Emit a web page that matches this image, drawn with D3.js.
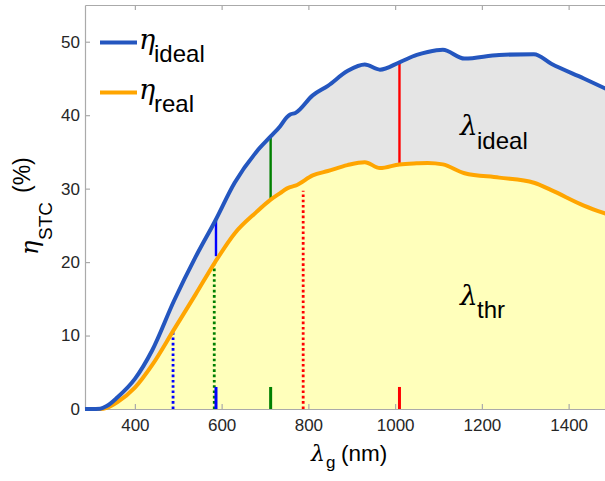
<!DOCTYPE html>
<html>
<head>
<meta charset="utf-8">
<script src="https://cdn.jsdelivr.net/npm/d3@7"></script>
<style>
  body { margin: 0; background: #fff; }
  svg { display: block; }
  .tick-label { font-family: "Liberation Sans", Arial, sans-serif; font-size: 17px; fill: #262626; }
  .sans { font-family: "Liberation Sans", Arial, sans-serif; fill: #000; }
  .greek { font-family: "DejaVu Serif", "Liberation Serif", serif; font-style: italic; fill: #000; }
</style>
</head>
<body>
<div id="chart"></div>
<script>
// wavelength grid (nm) and the two efficiency curves (%)
const lambdaNm = [285, 300, 320, 335, 360, 400, 440, 490, 540, 585, 630, 680, 713, 735, 750, 758, 770,
                  810, 845, 890, 930, 965, 1010, 1050, 1075, 1110, 1160, 1240, 1320, 1360, 1435, 1500];
const etaIdeal = [0, 0, 0.05, 0.4, 1.6, 4.1, 8.0, 14.7, 20.7, 25.6, 30.8, 35.0, 37.1, 38.5, 39.7, 40.1, 40.3,
                  42.7, 44.0, 46.0, 46.9, 46.2, 47.2, 48.2, 48.6, 48.9, 47.7, 48.2, 48.3, 47.0, 45.0, 43.2];
const etaReal  = [0, 0, 0, 0.15, 0.95, 2.9, 6.0, 10.8, 15.6, 20.0, 23.9, 26.8, 28.5, 29.4, 30.0, 30.2, 30.4,
                  31.8, 32.4, 33.2, 33.6, 32.8, 33.3, 33.45, 33.5, 33.3, 32.1, 31.5, 30.8, 29.8, 27.7, 26.3];

// markers
const markerColors = ["#0000ff", "#008000", "#ff0000"];
const solidLambda = [587, 713, 1010];
const solidLow    = [20.8, 28.5, 33.3];
const solidHigh   = [25.6, 37.1, 47.0];
const dotLambda   = [488, 583, 788];
const dotTop      = [10.8, 19.5, 29.7];
const baseLambda  = [587, 713, 1010];
const baseHeight  = [3, 3, 3];

const xTicks = [400, 600, 800, 1000, 1200, 1400];
const yTicks = [0, 10, 20, 30, 40, 50];

const W = 605, H = 481;
const margin = { left: 85, top: 5, bottom: 72, right: -7 };

const svg = d3.select("#chart").append("svg")
  .attr("width", W).attr("height", H);

const x = d3.scaleLinear().domain([285, 1500]).range([margin.left, W - margin.right]);
const y = d3.scaleLinear().domain([0, 55]).range([H - margin.bottom, margin.top]);

const pts = lambdaNm.map((l, i) => ({ l, hi: etaIdeal[i], lo: etaReal[i] }));
const curve = d3.curveMonotoneX;

// yellow area below real
svg.append("path")
  .attr("d", d3.area().x(d => x(d.l)).y0(y(0)).y1(d => y(d.lo)).curve(curve)(pts))
  .attr("fill", "#ffffbb");

// gray band between real and ideal
svg.append("path")
  .attr("d", d3.area().x(d => x(d.l)).y0(d => y(d.lo)).y1(d => y(d.hi)).curve(curve)(pts))
  .attr("fill", "#e5e5e5");

// axes box (left, bottom, top)
const axisCol = "#aaaaaa";
const fmt = d3.format("d");
const gx = svg.append("g").attr("transform", `translate(0,${y(0)})`)
  .call(d3.axisBottom(x).tickValues(xTicks).tickFormat(fmt).tickSizeInner(-5).tickSizeOuter(0).tickPadding(9));
const gxTop = svg.append("g").attr("transform", `translate(0,${y(55)})`)
  .call(d3.axisTop(x).tickValues(xTicks).tickSizeInner(-5).tickSizeOuter(0).tickFormat(""));
const gy = svg.append("g").attr("transform", `translate(${x(285)},0)`)
  .call(d3.axisLeft(y).tickValues(yTicks).tickFormat(fmt).tickSizeInner(-5).tickSizeOuter(0).tickPadding(5));

[gx, gxTop, gy].forEach(g => {
  g.select(".domain").attr("stroke", axisCol).attr("stroke-width", 1.2);
  g.selectAll(".tick line").attr("stroke", axisCol).attr("stroke-width", 1.2);
  g.selectAll(".tick text").attr("class", "tick-label").attr("fill", null);
});
gx.selectAll(".tick text").attr("dy", "0.75em");

// markers: dotted, solid and base ticks
svg.append("g").selectAll("line")
  .data(dotLambda).join("line")
  .attr("x1", d => x(d)).attr("x2", d => x(d))
  .attr("y1", y(0)).attr("y2", (d, i) => y(dotTop[i]))
  .attr("stroke", (d, i) => markerColors[i])
  .attr("stroke-width", 2.8)
  .attr("stroke-dasharray", "2.6,2.7");

svg.append("g").selectAll("line")
  .data(solidLambda).join("line")
  .attr("x1", d => x(d)).attr("x2", d => x(d))
  .attr("y1", (d, i) => y(solidLow[i])).attr("y2", (d, i) => y(solidHigh[i]))
  .attr("stroke", (d, i) => markerColors[i])
  .attr("stroke-width", 2.4);

svg.append("g").selectAll("line")
  .data(baseLambda).join("line")
  .attr("x1", d => x(d)).attr("x2", d => x(d))
  .attr("y1", y(0)).attr("y2", (d, i) => y(baseHeight[i]))
  .attr("stroke", (d, i) => markerColors[i])
  .attr("stroke-width", 3);

// curves
const blue = "#2456bf", orange = "#ffa500";
svg.append("path")
  .attr("d", d3.line().x(d => x(d.l)).y(d => y(d.lo)).curve(curve)(pts))
  .attr("fill", "none").attr("stroke", orange).attr("stroke-width", 4)
  .attr("stroke-linejoin", "round");
svg.append("path")
  .attr("d", d3.line().x(d => x(d.l)).y(d => y(d.hi)).curve(curve)(pts))
  .attr("fill", "none").attr("stroke", blue).attr("stroke-width", 4)
  .attr("stroke-linejoin", "round");

// legend
const legend = [
  { col: blue, sub: "ideal", y: 42.5 },
  { col: orange, sub: "real", y: 92.5 }
];
legend.forEach(d => {
  svg.append("line").attr("x1", 100).attr("x2", 137).attr("y1", d.y).attr("y2", d.y)
    .attr("stroke", d.col).attr("stroke-width", 4);
  svg.append("text").attr("class", "greek").attr("x", 139).attr("y", d.y + 6)
    .style("font-size", "27px").text("η");
  svg.append("text").attr("class", "sans").attr("x", 154).attr("y", d.y + 19)
    .style("font-size", "24px").text(d.sub);
});

// region annotations
[["ideal", 135, 149], ["thr", 305, 318]].forEach(([sub, yl, ys]) => {
  svg.append("text").attr("class", "greek").attr("x", 460).attr("y", yl)
    .style("font-size", "28px").text("λ");
  svg.append("text").attr("class", "sans").attr("x", 477).attr("y", ys)
    .style("font-size", "24px").text(sub);
});

// x label
svg.append("text").attr("class", "greek").attr("x", 311).attr("y", 461)
  .style("font-size", "22px").text("λ");
svg.append("text").attr("class", "sans").attr("x", 326).attr("y", 468)
  .style("font-size", "17px").text("g");
svg.append("text").attr("class", "sans").attr("x", 341).attr("y", 461)
  .style("font-size", "22.5px").text("(nm)");

// y label
const yl = svg.append("g").attr("transform", "translate(0,255) rotate(-90)");
yl.append("text").attr("class", "greek").attr("x", 0).attr("y", 38)
  .style("font-size", "24px").text("η");
yl.append("text").attr("class", "sans").attr("x", 15).attr("y", 51.5)
  .style("font-size", "19px").text("STC");
yl.append("text").attr("class", "sans").attr("x", 62).attr("y", 30)
  .style("font-size", "23px").text("(%)");
</script>
</body>
</html>
